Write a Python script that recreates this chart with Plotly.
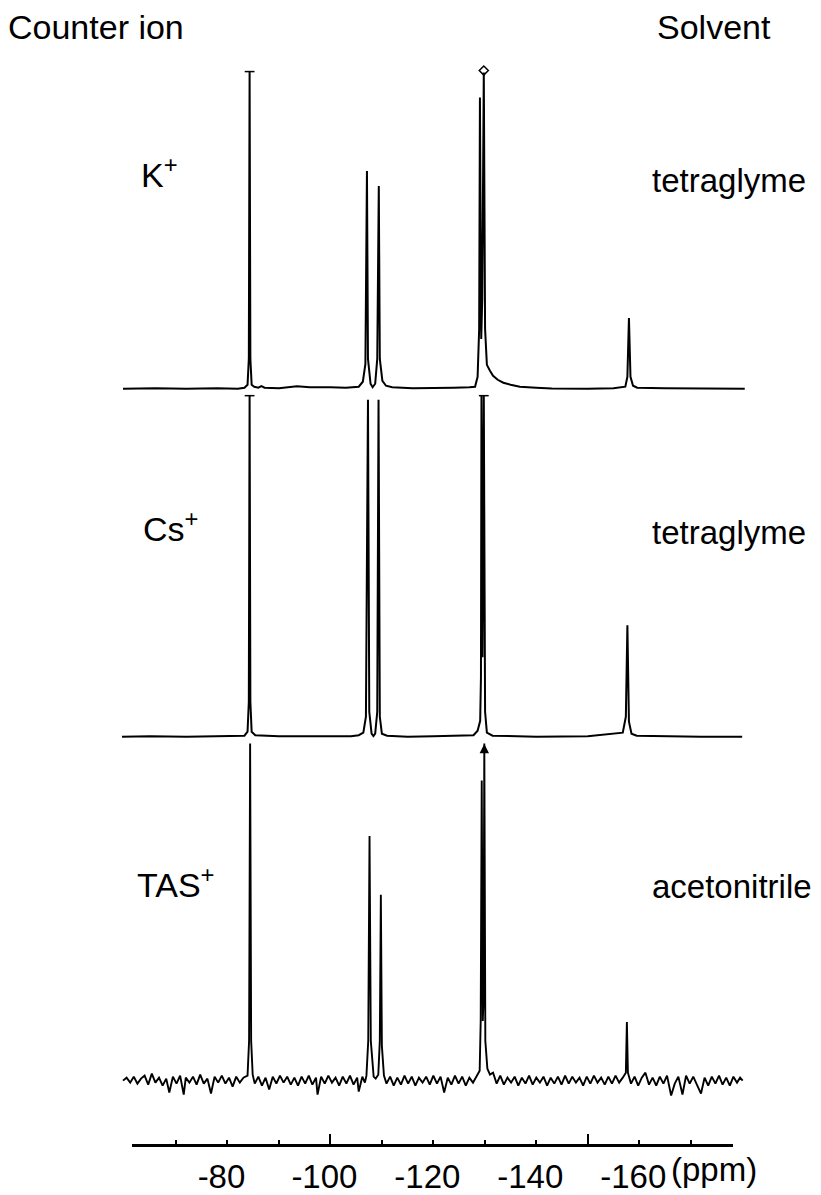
import plotly.graph_objects as go

W, H = 821, 1195

# ---------------- data (chemical shift in ppm, intensity in arbitrary units) -------------
k_ppm = [59.7, 66, 72, 78, 82, 83.3, 83.9, 84.15, 84.3, 84.45, 84.7, 85.2, 86.0, 86.6, 87.2,
         90, 93.5, 96, 100, 103, 105.5, 106.3, 106.8, 107.1, 107.3, 107.8, 108.2, 108.7, 109.1,
         109.4, 109.6, 110.1, 110.8, 112, 116, 120, 124, 127, 128.1, 128.6, 128.9, 129.05, 129.3,
         129.5, 129.8, 130.05, 130.4, 131.0, 131.6, 132.5, 133.6, 135, 136.8, 140, 143, 150, 155,
         157.3, 157.7, 158.0, 158.3, 158.8, 159.6, 165, 172, 180.5]
k_int = [0, 0.5, 0, 0.5, 0, 1, 4, 30, 319, 30, 4, 2, 1, 2.5, 1,
         0.5, 2.5, 1.5, 1.5, 1, 2, 7, 25, 219, 30, 5, 1.5, 5, 30,
         204, 30, 8, 3, 1.5, 0.5, 0.5, 1, 1.5, 2, 12, 60, 293, 50,
         90, 318, 60, 24, 18, 13, 9, 6, 4, 2, 1, 0.3, 0, 0.5,
         2, 12, 71, 12, 3, 1, 0.5, 0, 0]
k_cap_ppm = [84.3, 129.8]
k_cap_int = [319, 320]
k_cap_symbol = ["line-ew", "diamond-open"]

cs_ppm = [59.5, 65, 72, 80, 83.3, 83.9, 84.15, 84.3, 84.45, 84.7, 85.4, 90, 100, 104, 105.5,
          106.4, 106.9, 107.3, 107.55, 108.0, 108.35, 108.7, 109.1, 109.35, 109.6, 110.0, 111,
          115, 120, 125, 127.8, 128.6, 129.1, 129.25, 129.35, 129.55, 129.8, 130.05, 130.4, 131.5,
          135, 140, 150, 156.8, 157.4, 157.7, 158.0, 158.5, 159.5, 165, 172, 180.0]
cs_int = [0, 0.5, 0, 0.5, 1, 5, 35, 343, 35, 5, 1.5, 0.5, 0, 0.5, 1.5,
          4, 20, 339, 25, 3, 0.5, 3, 25, 339, 20, 3, 1,
          0, 0.5, 1, 1.5, 6, 16, 60, 343, 80, 343, 25, 4, 1,
          0.5, 0, 0.5, 4, 20, 112, 15, 3, 1, 0.5, 0, 0]
cs_cap_ppm = [84.3, 129.8]
cs_cap_int = [343, 343]
cs_cap_symbol = ["line-ew", "line-ew"]

tas_ppm = [59.7, 60.4, 61.1, 61.8, 62.5, 63.2, 63.9, 64.6, 65.3, 66.0, 66.7, 67.4, 68.1, 68.7,
           69.4, 70.1, 70.8, 71.5, 71.9, 72.6, 73.3, 74.0, 74.7, 75.4, 76.1, 76.8, 77.5, 78.2,
           78.9, 79.6, 80.3, 81.0, 81.7, 82.4, 83.1, 83.9, 84.2, 84.4, 84.6, 84.9,
           85.3, 86.0, 86.7, 87.4, 88.1, 88.8, 89.5, 90.2, 90.9, 91.6, 92.3, 93.0, 93.7, 94.4,
           95.1, 95.8, 96.5, 97.2, 97.5, 98.2, 98.9, 99.6, 100.3, 101.0, 101.7, 102.4, 103.1,
           103.8, 104.5, 105.2, 105.5, 106.2, 106.7,
           107.0, 107.35, 107.6, 107.85, 108.4, 108.8, 109.3, 109.6, 109.8, 110.0, 110.4,
           110.9, 111.6, 112.3, 113.0, 113.7, 114.4, 115.1, 115.8, 116.5, 117.2, 117.9, 118.6,
           119.3, 120.0, 120.7, 121.4, 122.1, 122.8, 123.5, 124.2, 124.9, 125.6, 126.3, 127.0,
           127.7, 128.4,
           129.0, 129.2, 129.4, 129.6, 129.75, 129.9, 130.1, 130.5, 131.0,
           131.6, 132.3, 133.0, 133.7, 134.4, 135.1, 135.8, 136.5, 137.2, 137.9, 138.6, 139.3,
           140.0, 140.7, 141.4, 142.1, 142.8, 143.5, 144.2, 144.9, 145.6, 146.3, 147.0, 147.7,
           148.4, 149.1, 149.8, 150.5, 151.2, 151.9, 152.6, 153.3, 154.0, 154.7, 155.4, 156.1,
           156.8, 157.4, 157.6, 157.8,
           158.4, 159.1, 159.8, 160.5, 161.2, 161.9, 162.6, 163.3, 164.0, 164.7, 165.4, 166.2,
           166.9, 167.6, 168.4, 169.1, 169.8, 170.5, 171.2, 172.0, 172.7, 173.4, 174.1, 174.8,
           175.5, 176.2, 176.9, 177.6, 178.3, 179.0, 179.6, 180.1]
tas_int = [0, 3, -2, 4, -3, 2, 5, -4, 7, -2, 3, -5, 2, -12,
           4, -3, 5, -14, 3, -2, 4, -4, 6, -3, 2, -13, 4, -2,
           5, -3, 3, -6, 4, -2, 3, 5, 40, 339, 40, 6,
           -3, 4, -5, 3, -9, 4, -3, 5, -2, 4, -4, 3, -5, 4,
           -3, 5, -4, 3, -14, 4, -3, 5, -2, 3, -5, 4, -3,
           5, -4, 3, -11, 4, -2,
           5, 40, 246, 40, 4, 2, 6, 40, 187, 35, 5,
           -3, 4, -5, 3, -4, 5, -3, 4, -5, 3, -2, 4,
           -4, 5, -3, 4, -12, 3, -4, 5, -3, 4, -5, 3,
           -2, 4,
           10, 60, 302, 60, 80, 339, 40, 12, 6,
           8, -3, 5, -4, 3, -2, 4, -5, 3, -3, 5, -4,
           3, -2, 4, -5, 3, -3, 4, -4, 5, -3, 4, -2,
           3, -5, 4, -3, 5, -2, 3, -4, 4, -3, 5, -2,
           3, 8, 59, 8,
           -3, 4, -5, 3, 8, -4, 3, -5, 4, -3, 5, -15,
           -3, 4, -14, 5, -3, 4, -4, -13, 3, -5, 4, -3,
           5, -4, 3, -5, 4, -2, 3, 0]
tas_cap_ppm = [129.9]
tas_cap_int = [337]
tas_cap_symbol = ["arrow-up"]

axis_label_values = [-80, -100, -120, -140, -160]
axis_label_text = ["-80", "-100", "-120", "-140", "-160"]
long_tick_values = [-100, -150]
unit_text = "(ppm)"

counter_ions = ["K<sup>+</sup>", "Cs<sup>+</sup>", "TAS<sup>+</sup>"]
solvents = ["tetraglyme", "tetraglyme", "acetonitrile"]

# ---------------- figure -------------------------------------------------------------
def neg(v):
    return [-p for p in v]

fig = go.Figure()
spectra = [(k_ppm, k_int, "y", 2.0), (cs_ppm, cs_int, "y2", 2.0), (tas_ppm, tas_int, "y3", 1.9)]
for ppm, inten, ya, lw in spectra:
    fig.add_trace(go.Scatter(x=neg(ppm), y=inten, mode="lines",
                             line=dict(color="black", width=lw), xaxis="x", yaxis=ya))
caps = [(k_cap_ppm, k_cap_int, k_cap_symbol, "y"), (cs_cap_ppm, cs_cap_int, cs_cap_symbol, "y2"),
        (tas_cap_ppm, tas_cap_int, tas_cap_symbol, "y3")]
for ppm, inten, sym, ya in caps:
    fig.add_trace(go.Scatter(x=neg(ppm), y=inten, mode="markers", xaxis="x", yaxis=ya,
                             marker=dict(symbol=sym, size=7, color="black",
                                         line=dict(color="black", width=1.5))))
# carriers for the ppm scale axes
fig.add_trace(go.Scatter(x=[None], y=[None], xaxis="x2", yaxis="y", showlegend=False))
fig.add_trace(go.Scatter(x=[None], y=[None], xaxis="x3", yaxis="y", showlegend=False))

px_per_ppm = 5.147
x_at_70 = 176.0
left_ppm = 70 - x_at_70 / px_per_ppm
right_ppm = 70 + (W - x_at_70) / px_per_ppm
ax_l, ax_r = 132.0, 733.0
ax_left_ppm = 70 + (ax_l - x_at_70) / px_per_ppm
ax_right_ppm = 70 + (ax_r - x_at_70) / px_per_ppm
axis_y = 1 - 1152 / H

def yrange(base_px):
    return [-(H - base_px), base_px]

font_family = "Liberation Sans, Arial, sans-serif"

fig.update_layout(
    width=W, height=H, margin=dict(l=0, r=0, t=0, b=0),
    paper_bgcolor="white", plot_bgcolor="rgba(0,0,0,0)", showlegend=False,
    xaxis=dict(domain=[0, 1], range=[-left_ppm, -right_ppm], visible=False, anchor="y"),
    yaxis=dict(domain=[0, 1], range=yrange(391), visible=False),
    yaxis2=dict(overlaying="y", range=yrange(741), visible=False),
    yaxis3=dict(overlaying="y", range=yrange(1087), visible=False),
    xaxis2=dict(domain=[ax_l / W, ax_r / W], range=[-ax_left_ppm, -ax_right_ppm],
                anchor="free", position=axis_y, showline=True, linecolor="black", linewidth=2.5,
                ticks="inside", ticklen=5, tickwidth=1.5, tickcolor="black",
                tickmode="array", tickvals=axis_label_values, ticktext=axis_label_text,
                ticklabelstandoff=1, ticklabelshift=6,
                minor=dict(ticks="inside", ticklen=5, tickwidth=1.5, tickcolor="black",
                           tick0=0, dtick=10, showgrid=False),
                tickfont=dict(family=font_family, size=33, color="black"),
                showgrid=False, zeroline=False),
    xaxis3=dict(overlaying="x2", range=[-ax_left_ppm, -ax_right_ppm], anchor="free",
                position=axis_y, showline=False, ticks="inside", ticklen=11, tickwidth=1.5,
                tickcolor="black", tickmode="array", tickvals=long_tick_values,
                showticklabels=False, showgrid=False, zeroline=False),
)

def ann(text, xpx, ypx, size=34):
    fig.add_annotation(text=text, x=xpx / W, y=1 - ypx / H, xref="paper", yref="paper",
                       xanchor="left", yanchor="middle", showarrow=False,
                       font=dict(family=font_family, size=size, color="black"))

ann("Counter ion", 6, 27)
ann("Solvent", 655, 27)
ion_x = [139, 141, 135]
ion_y = [174, 530, 888]
solv_y = [182, 536, 892]
for ion, solv, xx, yy, sy in zip(counter_ions, solvents, ion_x, ion_y, solv_y):
    ann(ion, xx, yy)
    ann(solv, 650, sy, size=33)
ann(unit_text, 669, 1176, size=33)

fig.write_html("out.html", config={"displayModeBar": False},
               post_script="document.body.style.margin='0px';document.body.style.overflow='hidden';")
